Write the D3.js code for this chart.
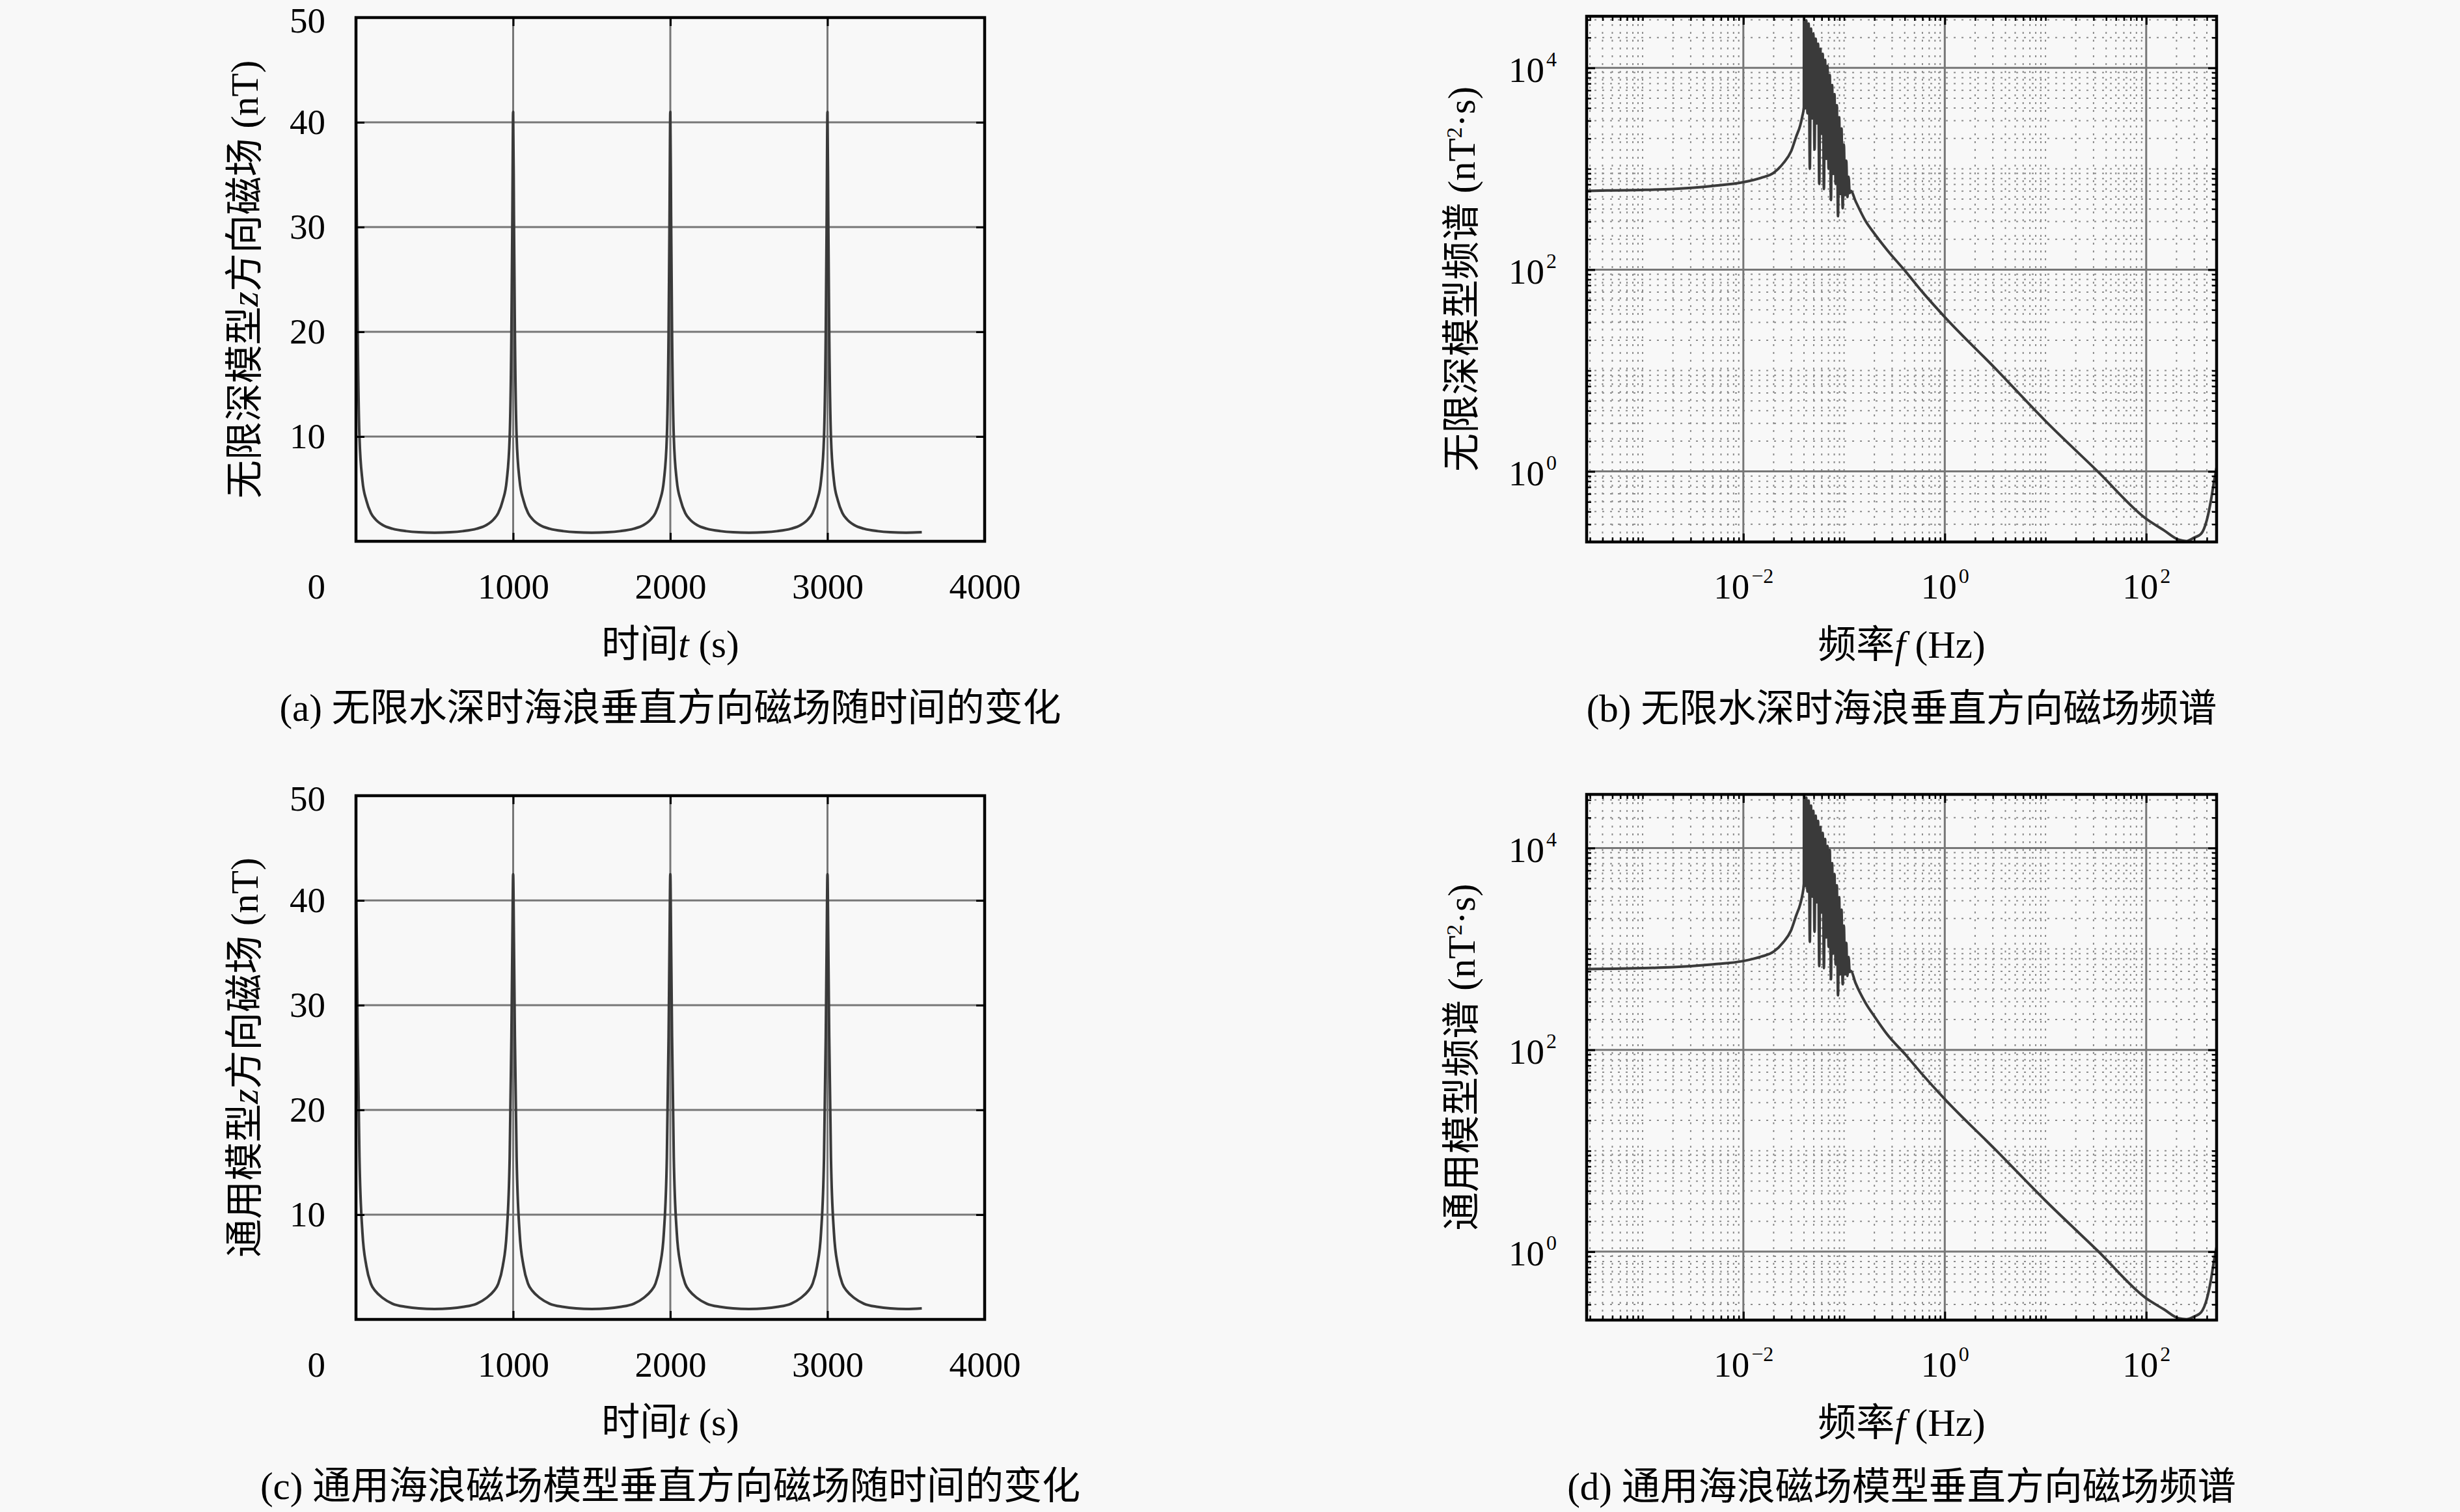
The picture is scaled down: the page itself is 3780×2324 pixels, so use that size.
<!DOCTYPE html>
<html>
<head>
<meta charset="utf-8">
<script src="https://cdn.jsdelivr.net/npm/d3@7"></script>
<style>
  body { margin: 0; background: #f8f8f8; }
  text { white-space: pre; }
</style>
</head>
<body>
<svg id="fig" width="3780" height="2324"></svg>
<script>
// ---- time series (panels a, c) ----
var timeSec = [0, 5, 11, 22, 41, 66, 95, 124, 170, 232, 320, 400, 500, 600, 680, 768, 830, 876, 905, 934, 959, 978, 989, 995,
  1000, 1005, 1011, 1022, 1041, 1066, 1095, 1124, 1170, 1232, 1320, 1400, 1500, 1600, 1680, 1768, 1830, 1876, 1905, 1934, 1959, 1978, 1989, 1995,
  2000, 2005, 2011, 2022, 2041, 2066, 2095, 2124, 2170, 2232, 2320, 2400, 2500, 2600, 2680, 2768, 2830, 2876, 2905, 2934, 2959, 2978, 2989, 2995,
  3000, 3005, 3011, 3022, 3041, 3066, 3095, 3124, 3170, 3232, 3320, 3400, 3500, 3600];

var deepField = [41, 31, 20, 10, 5.8, 3.9, 2.7, 2.1, 1.55, 1.2, 0.97, 0.87, 0.83, 0.87, 0.97, 1.2, 1.55, 2.1, 2.7, 3.9, 5.8, 10, 20, 31,
  41, 31, 20, 10, 5.8, 3.9, 2.7, 2.1, 1.55, 1.2, 0.97, 0.87, 0.83, 0.87, 0.97, 1.2, 1.55, 2.1, 2.7, 3.9, 5.8, 10, 20, 31,
  41, 31, 20, 10, 5.8, 3.9, 2.7, 2.1, 1.55, 1.2, 0.97, 0.87, 0.83, 0.87, 0.97, 1.2, 1.55, 2.1, 2.7, 3.9, 5.8, 10, 20, 31,
  41, 31, 20, 10, 5.8, 3.9, 2.7, 2.1, 1.55, 1.2, 0.97, 0.87, 0.83, 0.87];

var generalField = [42.5, 36, 27, 15.5, 8.3, 5.1, 3.4, 2.7, 2.05, 1.5, 1.2, 1.06, 1.0, 1.06, 1.2, 1.5, 2.05, 2.7, 3.4, 5.1, 8.3, 15.5, 27, 36,
  42.5, 36, 27, 15.5, 8.3, 5.1, 3.4, 2.7, 2.05, 1.5, 1.2, 1.06, 1.0, 1.06, 1.2, 1.5, 2.05, 2.7, 3.4, 5.1, 8.3, 15.5, 27, 36,
  42.5, 36, 27, 15.5, 8.3, 5.1, 3.4, 2.7, 2.05, 1.5, 1.2, 1.06, 1.0, 1.06, 1.2, 1.5, 2.05, 2.7, 3.4, 5.1, 8.3, 15.5, 27, 36,
  42.5, 36, 27, 15.5, 8.3, 5.1, 3.4, 2.7, 2.05, 1.5, 1.2, 1.06, 1.0, 1.06];

var timeRange = [0, 4000];
var fieldRange = [0, 50];
var timeXTicks = [1000, 2000, 3000, 4000];
var timeYTicks = [10, 20, 30, 40, 50];
var timeXGrid = [1000, 2000, 3000];
var timeYGrid = [10, 20, 30, 40];
var originLabel = "0";

// ---- spectra (panels b, d) ----
var freqHz = [0.000278, 0.0005, 0.001, 0.002, 0.005, 0.01, 0.015, 0.02, 0.025, 0.0297, 0.0335, 0.0367, 0.0385, 0.0399,
  0.04000, 0.04109, 0.04218, 0.04334, 0.04452, 0.04573, 0.04697, 0.04825, 0.04956, 0.05091, 0.05230,
  0.05372, 0.05518, 0.05668, 0.05821, 0.05980, 0.06142, 0.06310, 0.06481, 0.06658, 0.06839,
  0.07024, 0.07216, 0.07411, 0.07613, 0.07820, 0.08033, 0.08250, 0.08475, 0.08705, 0.08943,
  0.09185, 0.09436, 0.09692, 0.09956, 0.1023, 0.1051, 0.1079, 0.1108, 0.1138, 0.1169,
  0.130, 0.164, 0.2, 0.27, 0.41, 0.6, 1, 3.2, 10, 33, 100, 150, 209, 251, 300, 350, 400, 440, 470, 490, 500];

var deepPsd = [603, 610, 617, 631, 676, 736, 813, 912, 1140, 1479, 2089, 2692, 3311, 4074,
  31623, 3981, 29512, 3548, 27542, 1000, 24547, 3162, 21878, 1549, 19498,
  2818, 17378, 708, 15488, 2239, 13804, 631, 12023, 1259, 10471,
  1000, 8511, 490, 6761, 891, 5495, 708, 4266, 339, 3236,
  562, 2512, 407, 1738, 550, 1202, 525, 832, 575, 603,
  479, 302, 228, 155, 95.5, 60, 33.9, 10.4, 3.16, 1.0, 0.339, 0.261, 0.211, 0.204, 0.221, 0.240, 0.33, 0.52, 0.78, 0.98, 1.1];

var generalPsd = [631, 637, 645, 660, 704, 759, 838, 940, 1170, 1520, 2150, 2770, 3400, 4416,
  34000, 4200, 31600, 3700, 29500, 1175, 26300, 3300, 23400, 1480, 20900,
  2900, 18600, 676, 16200, 2300, 14100, 646, 12300, 1300, 10500,
  1050, 9550, 501, 7080, 900, 5500, 700, 4270, 347, 3240,
  560, 2450, 447, 1700, 560, 1150, 540, 830, 590, 603,
  460, 290, 215, 141, 89, 57, 32.5, 10.2, 3.2, 1.02, 0.345, 0.268, 0.219, 0.214, 0.228, 0.25, 0.34, 0.53, 0.8, 1.0, 1.12];

var deepPsdRange = [0.2, 32500];
var generalPsdRange = [0.21, 34000];
var freqMajor = [1e-2, 1, 1e2];
var psdMajor = [1, 1e2, 1e4];

// ---- texts ----
var titleA = [{ s: "无限深模型", cjk: 1 }, { s: "z", it: 1 }, { s: "方向磁场", cjk: 1 }, { s: " (nT)" }];
var titleC = [{ s: "通用模型", cjk: 1 }, { s: "z", it: 1 }, { s: "方向磁场", cjk: 1 }, { s: " (nT)" }];
var titleB = [{ s: "无限深模型频谱", cjk: 1 }, { s: " (nT" }, { s: "2", dy: -20, fs: 34 }, { s: "·s)", dy: 20 }];
var titleD = [{ s: "通用模型频谱", cjk: 1 }, { s: " (nT" }, { s: "2", dy: -20, fs: 34 }, { s: "·s)", dy: 20 }];
var timeXTitle = [{ s: "时间", cjk: 1 }, { s: "t", it: 1 }, { s: " (s)" }];
var freqXTitle = [{ s: "频率", cjk: 1 }, { s: "f", it: 1 }, { s: " (Hz)" }];
var captionA = [{ s: "(a) " }, { s: "无限水深时海浪垂直方向磁场随时间的变化", cjk: 1 }];
var captionB = [{ s: "(b) " }, { s: "无限水深时海浪垂直方向磁场频谱", cjk: 1 }];
var captionC = [{ s: "(c) " }, { s: "通用海浪磁场模型垂直方向磁场随时间的变化", cjk: 1 }];
var captionD = [{ s: "(d) " }, { s: "通用海浪磁场模型垂直方向磁场频谱", cjk: 1 }];

var latin = "'Liberation Serif', 'DejaVu Serif', serif";
var cjk = "'Noto Sans CJK SC', sans-serif";
var gridColor = "#777777";
var minorColor = "#8c8c8c";
var lineColor = "#3a3a3a";
var tickFont = 55;
var textFont = 59;

var svg = d3.select("#fig");
svg.append("rect").attr("width", 3780).attr("height", 2324).attr("fill", "#f8f8f8");

function addText(g, parts, attrs) {
  var t = g.append("text").attr("fill", "#000").attr("font-size", textFont).attr("font-family", latin);
  Object.keys(attrs).forEach(function (k) { t.attr(k, attrs[k]); });
  parts.forEach(function (p) {
    var s = t.append("tspan").text(p.s).attr("font-family", p.cjk ? cjk : latin);
    if (p.it) s.attr("font-style", "italic");
    if (p.dy) s.attr("dy", p.dy);
    if (p.fs) s.attr("font-size", p.fs);
  });
  return t;
}

function styleAxis(a) {
  a.select(".domain").remove();
  a.selectAll(".tick line").attr("stroke", "#000").attr("stroke-width", 3);
  a.selectAll(".tick text").attr("fill", "#000").attr("font-family", latin).attr("font-size", tickFont);
}

function powLabel(sel) {
  sel.each(function (d) {
    var e = Math.round(Math.log10(d));
    var t = d3.select(this).text(null);
    t.append("tspan").text("10");
    t.append("tspan").attr("dy", -24).attr("dx", 3).attr("font-size", 32)
      .text(e < 0 ? "\u2212" + (-e) : String(e));
  });
}

function frame(g, box) {
  g.append("rect").attr("x", box.left).attr("y", box.top)
    .attr("width", box.right - box.left).attr("height", box.bottom - box.top)
    .attr("fill", "none").attr("stroke", "#000").attr("stroke-width", 4.5);
}

function labels(g, box, yTitle, xTitle, caption) {
  var cx = (box.left + box.right) / 2;
  addText(g, yTitle, { transform: "translate(" + box.titleX + "," + (box.top + box.bottom) / 2 + ") rotate(-90)", "text-anchor": "middle" });
  addText(g, xTitle, { x: cx, y: box.bottom + 178, "text-anchor": "middle" });
  addText(g, caption, { x: cx, y: box.bottom + 276, "text-anchor": "middle" });
}

function drawTime(box, field, yTitle, caption) {
  var g = svg.append("g");
  var x = d3.scaleLinear().domain(timeRange).range([box.left, box.right]);
  var y = d3.scaleLinear().domain(fieldRange).range([box.bottom, box.top]);

  g.selectAll(null).data(timeXGrid).enter().append("line")
    .attr("x1", function (d) { return x(d); }).attr("x2", function (d) { return x(d); })
    .attr("y1", box.top).attr("y2", box.bottom)
    .attr("stroke", gridColor).attr("stroke-width", 3);
  g.selectAll(null).data(timeYGrid).enter().append("line")
    .attr("y1", function (d) { return y(d); }).attr("y2", function (d) { return y(d); })
    .attr("x1", box.left).attr("x2", box.right)
    .attr("stroke", gridColor).attr("stroke-width", 3);

  var line = d3.line()
    .x(function (d) { return x(d[0]); })
    .y(function (d) { return y(d[1]); })
    .curve(d3.curveMonotoneX);
  g.append("path").datum(d3.zip(timeSec, field))
    .attr("fill", "none").attr("stroke", lineColor).attr("stroke-width", 4)
    .attr("stroke-linejoin", "round").attr("d", line);

  frame(g, box);

  var bottom = g.append("g").attr("transform", "translate(0," + box.bottom + ")")
    .call(d3.axisBottom(x).tickValues(timeXTicks).tickSize(-13).tickFormat(d3.format("d")));
  styleAxis(bottom);
  bottom.selectAll(".tick text").attr("dy", null).attr("y", 88);
  bottom.selectAll(".tick").filter(function (d) { return d === 4000; }).select("line").remove();

  var top = g.append("g").attr("transform", "translate(0," + box.top + ")")
    .call(d3.axisTop(x).tickValues(timeXGrid).tickSize(-13).tickFormat(""));
  styleAxis(top);

  var left = g.append("g").attr("transform", "translate(" + box.left + ",0)")
    .call(d3.axisLeft(y).tickValues(timeYTicks).tickSize(-13).tickPadding(47).tickFormat(d3.format("d")));
  styleAxis(left);
  // top label sits right at the figure edge: keep its box inside the page
  left.selectAll(".tick text").attr("dy", null).attr("y", function (d) { return d === 50 ? 22 : 17; });
  left.selectAll(".tick").filter(function (d) { return d === 50; }).select("line").remove();

  var right = g.append("g").attr("transform", "translate(" + box.right + ",0)")
    .call(d3.axisRight(y).tickValues(timeYGrid).tickSize(-13).tickFormat(""));
  styleAxis(right);

  g.append("text").attr("x", box.left - 47).attr("y", box.bottom + 88)
    .attr("text-anchor", "end").attr("font-family", latin).attr("font-size", tickFont)
    .attr("fill", "#000").text(originLabel);

  labels(g, box, yTitle, timeXTitle, caption);
}

function isMajor(v, majors) {
  return majors.some(function (m) { return Math.abs(Math.log10(v) - Math.log10(m)) < 1e-6; });
}

function drawSpectrum(box, psd, psdRange, yTitle, caption) {
  var g = svg.append("g");
  var x = d3.scaleLog().domain(d3.extent(freqHz)).range([box.left, box.right]);
  var y = d3.scaleLog().domain(psdRange).range([box.bottom, box.top]);

  var xMinor = x.ticks().filter(function (v) { return !isMajor(v, freqMajor); });
  var yMinor = y.ticks().filter(function (v) { return !isMajor(v, psdMajor); });

  g.selectAll(null).data(xMinor).enter().append("line")
    .attr("x1", function (d) { return x(d); }).attr("x2", function (d) { return x(d); })
    .attr("y1", box.top).attr("y2", box.bottom)
    .attr("stroke", minorColor).attr("stroke-width", 2).attr("stroke-dasharray", "3,9");
  g.selectAll(null).data(yMinor).enter().append("line")
    .attr("y1", function (d) { return y(d); }).attr("y2", function (d) { return y(d); })
    .attr("x1", box.left).attr("x2", box.right)
    .attr("stroke", minorColor).attr("stroke-width", 2).attr("stroke-dasharray", "3,9");

  g.selectAll(null).data(freqMajor).enter().append("line")
    .attr("x1", function (d) { return x(d); }).attr("x2", function (d) { return x(d); })
    .attr("y1", box.top).attr("y2", box.bottom)
    .attr("stroke", gridColor).attr("stroke-width", 3);
  g.selectAll(null).data(psdMajor).enter().append("line")
    .attr("y1", function (d) { return y(d); }).attr("y2", function (d) { return y(d); })
    .attr("x1", box.left).attr("x2", box.right)
    .attr("stroke", gridColor).attr("stroke-width", 3);

  var line = d3.line()
    .x(function (d) { return x(d[0]); })
    .y(function (d) { return y(d[1]); })
    .curve(d3.curveMonotoneX);
  g.append("path").datum(d3.zip(freqHz, psd))
    .attr("fill", "none").attr("stroke", lineColor).attr("stroke-width", 4)
    .attr("stroke-linejoin", "round").attr("d", line);

  frame(g, box);

  // major ticks with labels
  var bottom = g.append("g").attr("transform", "translate(0," + box.bottom + ")")
    .call(d3.axisBottom(x).tickValues(freqMajor).tickSize(-13).tickFormat(d3.format("")));
  styleAxis(bottom);
  bottom.selectAll(".tick text").attr("dy", null).attr("y", 87).call(powLabel);

  var left = g.append("g").attr("transform", "translate(" + box.left + ",0)")
    .call(d3.axisLeft(y).tickValues(psdMajor).tickSize(-13).tickPadding(46).tickFormat(d3.format("")));
  styleAxis(left);
  left.selectAll(".tick text").attr("dy", null).attr("y", 21).call(powLabel);

  var top = g.append("g").attr("transform", "translate(0," + box.top + ")")
    .call(d3.axisTop(x).tickValues(freqMajor).tickSize(-13).tickFormat(""));
  styleAxis(top);
  var right = g.append("g").attr("transform", "translate(" + box.right + ",0)")
    .call(d3.axisRight(y).tickValues(psdMajor).tickSize(-13).tickFormat(""));
  styleAxis(right);

  // minor ticks on all four sides
  [[d3.axisBottom(x).tickValues(xMinor), "translate(0," + box.bottom + ")"],
   [d3.axisTop(x).tickValues(xMinor), "translate(0," + box.top + ")"],
   [d3.axisLeft(y).tickValues(yMinor), "translate(" + box.left + ",0)"],
   [d3.axisRight(y).tickValues(yMinor), "translate(" + box.right + ",0)"]].forEach(function (p) {
    var a = g.append("g").attr("transform", p[1]).call(p[0].tickSize(-7).tickFormat(""));
    styleAxis(a);
    a.selectAll(".tick line").attr("stroke-width", 2.5);
  });

  labels(g, box, yTitle, freqXTitle, caption);
}

var boxA = { left: 547, right: 1513, top: 27, bottom: 832, titleX: 396 };
var boxC = { left: 547, right: 1513, top: 1223, bottom: 2028, titleX: 396 };
var boxB = { left: 2438, right: 3406, top: 25, bottom: 833, titleX: 2266 };
var boxD = { left: 2438, right: 3406, top: 1221, bottom: 2029, titleX: 2266 };

drawTime(boxA, deepField, titleA, captionA);
drawTime(boxC, generalField, titleC, captionC);
drawSpectrum(boxB, deepPsd, deepPsdRange, titleB, captionB);
drawSpectrum(boxD, generalPsd, generalPsdRange, titleD, captionD);
</script>
</body>
</html>
